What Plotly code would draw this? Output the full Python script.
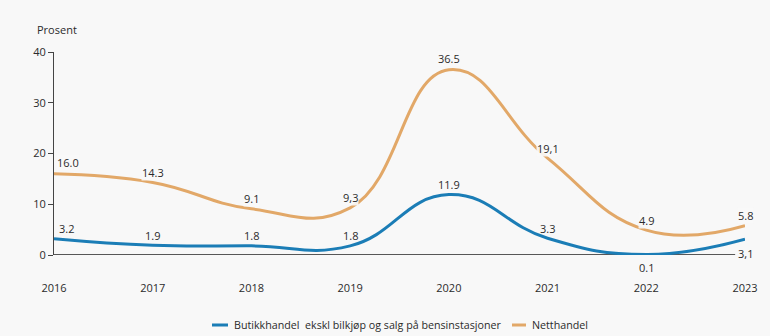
import plotly.graph_objects as go

# Annual growth in retail sales, per cent
years = [2016, 2017, 2018, 2019, 2020, 2021, 2022, 2023]
butikk = [3.2, 1.9, 1.8, 1.8, 11.9, 3.3, 0.1, 3.1]
nett = [16.0, 14.3, 9.1, 9.3, 36.5, 19.1, 4.9, 5.8]
y_ticks = [0, 10, 20, 30, 40]

# Decimal separator used in each printed value label
butikk_sep = [".", ".", ".", ".", ".", ".", ".", ","]
nett_sep = [".", ".", ".", ",", ".", ",", ".", "."]

name_butikk = "Butikkhandel  ekskl bilkjøp og salg på bensinstasjoner"
name_nett = "Netthandel"

BLUE = "#1b7db6"
ORANGE = "#e2a868"
TEXT = "#2b2b2b"
FONT = "Open Sans"
BG = "#f8f8f8"

# plot-area geometry in pixels
W, H = 770, 336
ML, MR, MT, MB = 54, 25, 52, 81
PW, PH = W - ML - MR, H - MT - MB


def px_x(px):
    return (px - ML) / PW


def px_y(py):
    return (H - MB - py) / PH


def fmt(v, sep):
    return f"{v:.1f}".replace(".", sep)


fig = go.Figure()
fig.add_trace(go.Scatter(
    x=years, y=butikk, name=name_butikk, mode="lines",
    line=dict(color=BLUE, width=3, shape="spline", smoothing=1.3),
))
fig.add_trace(go.Scatter(
    x=years, y=nett, name=name_nett, mode="lines",
    line=dict(color=ORANGE, width=3, shape="spline", smoothing=1.3),
))

# value labels: (x shift, y shift) in pixels per label
butikk_shift = [(12, 10), (0, 10), (0, 10), (0, 10), (0, 10), (0, 10), (0, -13), (0, -14)]
nett_shift = [(14, 11), (0, 10), (0, 10), (0, 10), (0, 11), (0, 10), (0, 10), (0, 10)]

label_font = dict(family=FONT, size=11, color=TEXT)
legend_font = dict(family=FONT, size=10.7, color=TEXT)
annotations = []
for x, v, s, (dx, dy) in zip(years, butikk, butikk_sep, butikk_shift):
    annotations.append(dict(x=x, y=v, text=fmt(v, s), showarrow=False,
                            xshift=dx, yshift=dy, font=label_font))
for x, v, s, (dx, dy) in zip(years, nett, nett_sep, nett_shift):
    annotations.append(dict(x=x, y=v, text=fmt(v, s), showarrow=False,
                            xshift=dx, yshift=dy, bgcolor="rgba(248,248,248,0.9)",
                            borderpad=0, font=label_font))

annotations.append(dict(xref="paper", yref="paper", x=px_x(35), y=px_y(30),
                        xanchor="left", yanchor="middle", text="Prosent",
                        showarrow=False, font=label_font))

shapes = [dict(type="line", xref="x", yref="y", x0=2016, x1=2022.9,
               y0=0, y1=0, line=dict(color="#222222", width=1.5), layer="below")]

# legend drawn below the axis: swatch + label for each series
legend_y = 325
for (x0, x1, tx), color, name in [((212, 228, 232), BLUE, name_butikk),
                                 ((512, 526, 530), ORANGE, name_nett)]:
    shapes.append(dict(type="line", xref="paper", yref="paper",
                       x0=px_x(x0), x1=px_x(x1), y0=px_y(legend_y), y1=px_y(legend_y),
                       line=dict(color=color, width=3)))
    annotations.append(dict(xref="paper", yref="paper", x=px_x(tx), y=px_y(legend_y),
                            xanchor="left", yanchor="middle", text=name,
                            showarrow=False, font=legend_font))

fig.update_layout(
    width=W, height=H,
    margin=dict(l=ML, r=MR, t=MT, b=MB),
    paper_bgcolor=BG, plot_bgcolor=BG,
    font=dict(family=FONT, size=11, color=TEXT),
    showlegend=False,
    annotations=annotations,
    shapes=shapes,
    xaxis=dict(range=[2016, 2023], tickvals=years, ticktext=[str(y) for y in years],
               showgrid=False, zeroline=False, showline=False, ticks="",
               ticklabelstandoff=25, tickfont=label_font, fixedrange=True),
    yaxis=dict(range=[0, 40], tickvals=y_ticks, showgrid=False, zeroline=False,
               showline=True, linecolor="#444444", linewidth=1,
               ticks="outside", ticklen=5, tickcolor="#444444",
               tickfont=label_font, fixedrange=True),
)

fig.write_html("out.html")
